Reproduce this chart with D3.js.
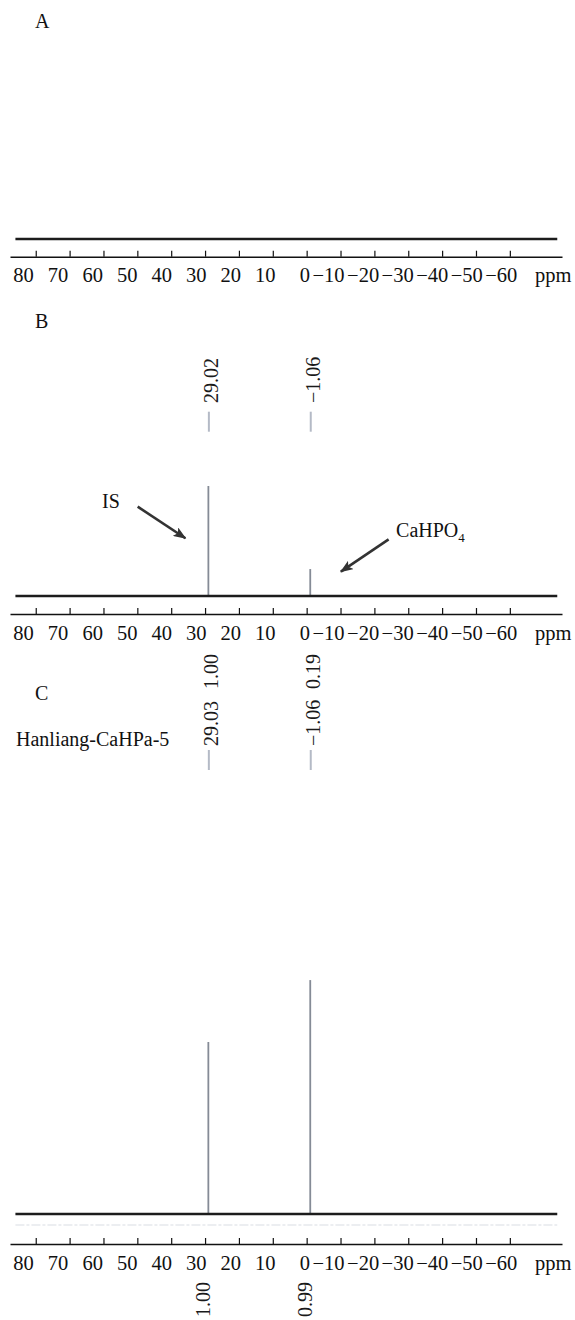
<!DOCTYPE html>
<html>
<head>
<meta charset="utf-8">
<script src="https://cdn.jsdelivr.net/npm/d3@7"></script>
<style>
  body { margin: 0; background: #fff; }
  svg { display: block; }
</style>
</head>
<body>
<div id="chart"></div>
<script>
// chemical shift axis (ppm)
const tickValues = [80, 70, 60, 50, 40, 30, 20, 10, 0, -10, -20, -30, -40, -50, -60];
const panelLabels = ["A", "B", "C"];

// B: internal standard + CaHPO4 reference
const peaksB = [29.02, -1.06];
const heightsB = [100, 24.5];

// C: Hanliang-CaHPa-5 sample
const peaksC = [29.03, -1.06];
const heightsC = [100, 136];
const integralsTopC = [1.00, 0.19];
const integralsBottomC = [1.00, 0.99];

// arrows on B, as [ppm, intensity]
const arrowLabels = ["IS", "CaHPO"];
const arrowStart = [[49.9, 81.2], [-24.2, 51.5]];
const arrowEnd = [[35.8, 52.5], [-10.1, 22.1]];
const arrowTextPos = [[60.4, 80], [-26.4, 54]];

const width = 575, height = 1320;
const serif = '"Liberation Serif", "Times New Roman", "DejaVu Serif", serif';
const ink = "#111";
const peakColor = "#858b96";
const fmt2 = d3.format(".2f");

const svg = d3.select("#chart")
  .append("svg")
    .attr("width", width)
    .attr("height", height)
    .attr("font-family", serif);

svg.append("rect").attr("width", width).attr("height", height).attr("fill", "#fff");

const defs = svg.append("defs");
defs.append("filter").attr("id", "soft")
  .append("feGaussianBlur").attr("stdDeviation", 0.6);
defs.append("marker")
    .attr("id", "head")
    .attr("markerUnits", "userSpaceOnUse")
    .attr("markerWidth", 14).attr("markerHeight", 10)
    .attr("refX", 12).attr("refY", 5)
    .attr("orient", "auto")
  .append("path")
    .attr("d", "M0,0 L13,5 L0,10 L3,5 z")
    .attr("fill", "#333");

// shared ppm scale (reversed, like an NMR axis)
const x = d3.scaleLinear().domain([87.6, -75.4]).range([10, 562]);
// tick labels drift slightly right of the ticks in the original
const labelShift = d3.scaleLinear().domain([80, -60]).range([-2.4, 6.9]);

// panel layout: baseline of the spectrum, axis line, panel letter
const panels = [
  { base: 239, axis: 256.7, letter: 28, scaleTop: 139 },
  { base: 596, axis: 614, letter: 328, scaleTop: 486 },
  { base: 1214, axis: 1244, letter: 700, scaleTop: 1042 }
];

panels.forEach((p, i) => {
  const y = d3.scaleLinear().domain([0, 100]).range([p.base, p.scaleTop]);
  p.y = y;

  // axis with upward ticks
  const axis = d3.axisBottom(x)
    .tickValues(tickValues)
    .tickSize(-6)
    .tickSizeOuter(0)
    .tickFormat(d3.format("d"));

  const g = svg.append("g")
    .attr("transform", `translate(0,${p.axis})`)
    .call(axis)
    .attr("font-family", serif)
    .attr("font-size", 20.5);

  g.select(".domain").attr("stroke", ink).attr("stroke-width", 1.5);
  g.selectAll(".tick line").attr("stroke", ink).attr("stroke-width", 1.2);
  g.selectAll(".tick text")
    .attr("fill", ink)
    .attr("y", 25.5)
    .attr("dy", 0)
    .attr("text-anchor", "end")
    .attr("dx", d => labelShift(d));

  g.append("text")
    .attr("x", 535)
    .attr("y", 25.5)
    .attr("fill", ink)
    .attr("text-anchor", "start")
    .text("ppm");

  // panel letter
  svg.append("text")
    .attr("x", 35)
    .attr("y", p.letter)
    .attr("font-size", 20)
    .attr("fill", ink)
    .text(panelLabels[i]);
});

// peaks first, baseline drawn over them
function drawPeaks(p, ppm, h) {
  svg.selectAll(null)
    .data(ppm)
    .join("line")
    .attr("x1", d => x(d)).attr("x2", d => x(d))
    .attr("y1", p.y(0))
    .attr("y2", (d, i) => p.y(h[i]))
    .attr("stroke", peakColor)
    .attr("stroke-width", 1.8);
}

function drawBaseline(p, faint) {
  const line = d3.line().x(d => x(d[0])).y(d => p.y(d[1]));
  const pts = [[86, 0], [-74, 0]];
  if (faint) {
    svg.append("path")
      .attr("d", line(pts))
      .attr("transform", "translate(0,11)")
      .attr("stroke", "#eceef1")
      .attr("stroke-width", 2)
      .attr("stroke-dasharray", "9,2,3,2")
      .attr("fill", "none");
  }
  // fuzzy outer edge of the noise band
  svg.append("path")
    .attr("d", line(pts))
    .attr("stroke", "#555")
    .attr("stroke-width", 4.6)
    .attr("stroke-dasharray", "3,1,1,2,2,1,4,2")
    .attr("opacity", 0.6)
    .attr("fill", "none")
    .attr("filter", "url(#soft)");
  // dark core
  svg.append("path")
    .attr("d", line(pts))
    .attr("stroke", "#1c1c1c")
    .attr("stroke-width", 2.6)
    .attr("fill", "none");
}

drawBaseline(panels[0], false);

drawPeaks(panels[1], peaksB, heightsB);
drawBaseline(panels[1], false);

drawPeaks(panels[2], peaksC, heightsC);
drawBaseline(panels[2], true);

// peak pick markers and shift labels
function drawPicks(ppm, markTop, markBottom, textBottom) {
  svg.selectAll(null)
    .data(ppm)
    .join("line")
    .attr("x1", d => x(d) + 0.5).attr("x2", d => x(d) + 0.5)
    .attr("y1", markTop).attr("y2", markBottom)
    .attr("stroke", "#b4bac6")
    .attr("stroke-width", 2);

  svg.selectAll(null)
    .data(ppm)
    .join("text")
    .attr("transform", d => `translate(${x(d) + 10},${textBottom}) rotate(-90)`)
    .attr("font-size", 20)
    .attr("fill", "#1a1a1a")
    .text(d => fmt2(d));
}

drawPicks(peaksB, 411.7, 431.7, 403);
drawPicks(peaksC, 750, 770, 746);

// integrals above the C picks
svg.selectAll(null)
  .data(integralsTopC)
  .join("text")
  .attr("transform", (d, i) => `translate(${x(peaksC[i]) + 10},${689}) rotate(-90)`)
  .attr("font-size", 20)
  .attr("fill", "#1a1a1a")
  .text(d => fmt2(d));

// integrals under the C axis
svg.selectAll(null)
  .data(integralsBottomC)
  .join("text")
  .attr("transform", (d, i) => `translate(${x(peaksC[i]) + 2},${1317}) rotate(-90)`)
  .attr("font-size", 20)
  .attr("fill", "#1a1a1a")
  .text(d => fmt2(d));

// sample name
svg.append("text")
  .attr("x", 16)
  .attr("y", 746)
  .attr("font-size", 20)
  .attr("fill", ink)
  .text("Hanliang-CaHPa-5");

// arrows in B
const yB = panels[1].y;
svg.selectAll(null)
  .data(arrowStart)
  .join("line")
  .attr("x1", d => x(d[0])).attr("y1", d => yB(d[1]))
  .attr("x2", (d, i) => x(arrowEnd[i][0]))
  .attr("y2", (d, i) => yB(arrowEnd[i][1]))
  .attr("stroke", "#333")
  .attr("stroke-width", 2.6)
  .attr("marker-end", "url(#head)");

const labels = svg.selectAll(null)
  .data(arrowTextPos)
  .join("text")
  .attr("x", d => x(d[0]))
  .attr("y", d => yB(d[1]))
  .attr("font-size", 20)
  .attr("fill", ink)
  .text((d, i) => arrowLabels[i]);

// subscript for CaHPO4
labels.filter((d, i) => i === 1)
  .append("tspan")
  .attr("font-size", 13)
  .attr("dy", 5)
  .text("4");
</script>
</body>
</html>
